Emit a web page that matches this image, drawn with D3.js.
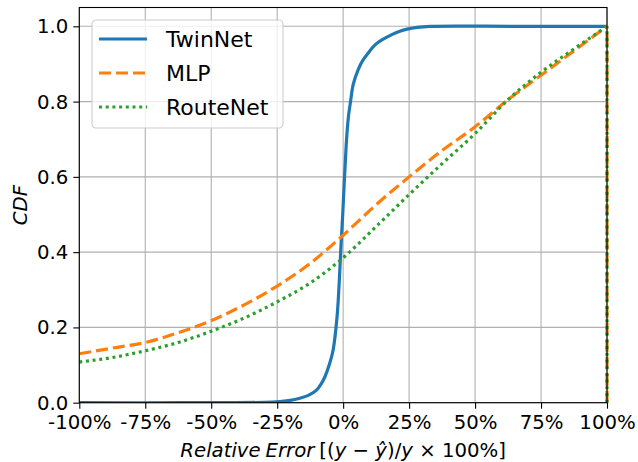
<!DOCTYPE html>
<html>
<head>
<meta charset="utf-8">
<script src="https://cdn.jsdelivr.net/npm/d3@7"></script>
<style>
  body { margin: 0; background: #fff; }
  svg { display: block; font-family: "DejaVu Sans", sans-serif; }
</style>
</head>
<body>
<div id="canvas"></div>
<script>
// relative error (%) and CDF values
const twinX = [-100, -60, -30, -24, -20, -16.4, -13, -10, -8.5, -6.9, -5.3, -3.8, -2.3, -1.5, -0.9, -0.2, 0.4, 0.9, 1.3, 2.0, 2.8, 3.8, 5.7, 7.5, 9.5, 12, 15, 21.5, 28, 33, 66, 100];
const twinY = [0, 0, 0.001, 0.003, 0.006, 0.012, 0.02, 0.034, 0.048, 0.069, 0.1, 0.14, 0.229, 0.318, 0.406, 0.495, 0.583, 0.65, 0.7, 0.76, 0.8, 0.845, 0.885, 0.91, 0.929, 0.95, 0.965, 0.987, 0.997, 1.0, 1.0, 1.0];

const mlpX = [-100, -87.5, -75, -62.5, -50, -37.5, -25, -12.5, 0, 12.5, 25, 37.5, 50, 62.5, 75, 87.5, 100];
const mlpY = [0.13, 0.145, 0.16, 0.186, 0.218, 0.26, 0.31, 0.37, 0.445, 0.526, 0.60, 0.67, 0.733, 0.805, 0.87, 0.935, 1.0];

const routeX = [-100, -87.5, -75, -62.5, -50, -37.5, -25, -12.5, 0, 12.5, 25, 37.5, 50, 62.5, 75, 87.5, 100];
const routeY = [0.108, 0.12, 0.138, 0.16, 0.19, 0.225, 0.268, 0.318, 0.385, 0.468, 0.553, 0.635, 0.715, 0.805, 0.878, 0.94, 1.0];

// vertical jump drawn at the right edge
const tailX = [100, 100];
const tailY = [0, 1];

const xTicks = [-100, -75, -50, -25, 0, 25, 50, 75, 100];
const yTicks = [0, 0.2, 0.4, 0.6, 0.8, 1.0];
const seriesNames = ["TwinNet", "MLP", "RouteNet"];

const W = 638, H = 462;
const margin = { top: 7.5, right: 31, bottom: 59.3, left: 79.3 };
const width = W - margin.left - margin.right;
const height = H - margin.top - margin.bottom;

const svg = d3.select("#canvas").append("svg")
  .attr("width", W)
  .attr("height", H);

const g = svg.append("g")
  .attr("transform", `translate(${margin.left},${margin.top})`);

const x = d3.scaleLinear().domain([-100, 100]).range([0, width]);
const y = d3.scaleLinear().domain([0, 1.05]).range([height, 0]);

// grid
g.append("g").selectAll("line")
  .data(xTicks).enter().append("line")
  .attr("x1", d => x(d)).attr("x2", d => x(d))
  .attr("y1", 0).attr("y2", height)
  .attr("stroke", "#b0b0b0").attr("stroke-width", 1.1);
g.append("g").selectAll("line")
  .data(yTicks).enter().append("line")
  .attr("x1", 0).attr("x2", width)
  .attr("y1", d => y(d)).attr("y2", d => y(d))
  .attr("stroke", "#b0b0b0").attr("stroke-width", 1.1);

g.append("defs").append("clipPath").attr("id", "clip")
  .append("rect").attr("x", 0).attr("y", 0).attr("width", width).attr("height", height);

const smooth = d3.line()
  .x(d => x(d[0]))
  .y(d => y(d[1]))
  .curve(d3.curveMonotoneX);

const steep = d3.line()
  .x(d => x(d[0]))
  .y(d => y(d[1]))
  .curve(d3.curveCatmullRom.alpha(0.5));

const straight = d3.line()
  .x(d => x(d[0]))
  .y(d => y(d[1]));

const series = [
  { xs: twinX, ys: twinY, color: "#1f77b4", dash: null, gen: steep },
  { xs: mlpX, ys: mlpY, color: "#ff7f0e", dash: "12,5", gen: smooth },
  { xs: routeX, ys: routeY, color: "#2ca02c", dash: "3,3.7", gen: smooth }
];

const plot = g.append("g").attr("clip-path", "url(#clip)");

series.forEach(s => {
  plot.append("path")
    .datum(s.xs.map((v, i) => [v, s.ys[i]]))
    .attr("fill", "none")
    .attr("stroke", s.color)
    .attr("stroke-width", 3.2)
    .attr("stroke-dasharray", s.dash)
    .attr("d", s.gen);
});

// right edge vertical segments (MLP, RouteNet)
series.slice(1).forEach(s => {
  g.append("path")
    .datum(tailX.map((v, i) => [v, tailY[i]]))
    .attr("fill", "none")
    .attr("stroke", s.color)
    .attr("stroke-width", 3.2)
    .attr("stroke-dasharray", s.dash)
    .attr("d", straight);
});

// axes
const xAxis = g.append("g")
  .attr("transform", `translate(0,${height})`)
  .call(d3.axisBottom(x).tickValues(xTicks).tickSize(6).tickPadding(6).tickFormat(d => d + "%"));
const yAxis = g.append("g")
  .call(d3.axisLeft(y).tickValues(yTicks).tickSize(6).tickPadding(5).tickFormat(d3.format(".1f")));

[xAxis, yAxis].forEach(a => {
  a.select(".domain").remove();
  a.selectAll(".tick line").attr("stroke", "#000").attr("stroke-width", 1.1);
  a.selectAll("text")
    .attr("fill", "#000")
    .style("font-size", "19.7px")
    .style("font-family", "DejaVu Sans");
});
xAxis.selectAll("text").attr("dy", "0.71em");
yAxis.selectAll("text").attr("dy", "0.33em");

// spines
g.append("rect")
  .attr("x", 0).attr("y", 0)
  .attr("width", width).attr("height", height)
  .attr("fill", "none")
  .attr("stroke", "#000")
  .attr("stroke-width", 1.1);

// labels
const xl = svg.append("text")
  .attr("x", margin.left + width / 2)
  .attr("y", 457)
  .attr("text-anchor", "middle")
  .style("font-size", "19.7px")
  .attr("fill", "#000");
xl.append("tspan").style("font-style", "italic").text("Relative\u2005Error");
xl.append("tspan").text("\u2005[(");
xl.append("tspan").style("font-style", "italic").text("y");
xl.append("tspan").text(" \u2212 ");
xl.append("tspan").style("font-style", "italic").text("\u0177");
xl.append("tspan").text(")/");
xl.append("tspan").style("font-style", "italic").text("y");
xl.append("tspan").text(" \u00d7 100%]");

svg.append("text")
  .attr("transform", `translate(27,${margin.top + height / 2}) rotate(-90)`)
  .attr("text-anchor", "middle")
  .style("font-size", "19.7px")
  .style("font-style", "italic")
  .attr("fill", "#000")
  .text("CDF");

// legend
const legend = svg.append("g").attr("transform", "translate(92,20)");
legend.append("rect")
  .attr("width", 191).attr("height", 108)
  .attr("rx", 4).attr("ry", 4)
  .attr("fill", "rgba(255,255,255,0.8)")
  .attr("stroke", "#cccccc")
  .attr("stroke-width", 1.1);

seriesNames.forEach((name, i) => {
  const row = legend.append("g").attr("transform", `translate(0,${19 + i * 34})`);
  row.append("line")
    .attr("x1", 7).attr("x2", 55)
    .attr("y1", 0).attr("y2", 0)
    .attr("stroke", series[i].color)
    .attr("stroke-width", 3.2)
    .attr("stroke-dasharray", series[i].dash);
  row.append("text")
    .attr("x", 74).attr("y", 0)
    .attr("dy", "0.36em")
    .style("font-size", "22px")
    .attr("fill", "#000")
    .text(name);
});
</script>
</body>
</html>
